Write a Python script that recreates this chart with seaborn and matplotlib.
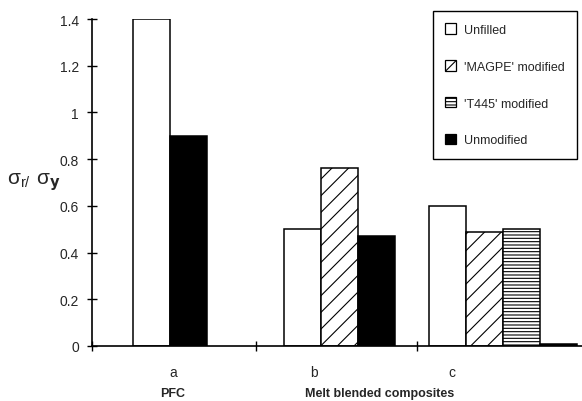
import numpy as np
import pandas as pd
import matplotlib
matplotlib.use("Agg")
import matplotlib.pyplot as plt
from matplotlib.patches import Patch
import seaborn as sns

# ---- data ----
groups = ["a", "b", "c"]
group_titles = ["PFC", "Melt blended composites"]
series = ["Unfilled", "'MAGPE' modified", "'T445' modified", "Unmodified"]
unfilled = [1.4, 0.5, 0.6]
magpe = [None, 0.76, 0.49]
t445 = [None, None, 0.50]
unmodified = [0.9, 0.47, 0.01]
y_ticks = [0, 0.2, 0.4, 0.6, 0.8, 1.0, 1.2, 1.4]
y_ticklabels = ["0", "0.2", "0.4", "0.6", "0.8", "1", "1.2", "1.4"]

# ---- layout ----
group_start = [1.6, 5.7, 9.6]
group_label_x = [2.19, 6.0, 9.73]
title_x = [2.19, 7.78]
boundary_ticks = [0, 4.43, 8.78]

rows = []
for gi, g in enumerate(groups):
    slot = 0
    for s, vals in zip(series, [unfilled, magpe, t445, unmodified]):
        v = vals[gi]
        if v is None:
            continue
        rows.append({"pos": group_start[gi] + slot, "val": v, "series": s})
        slot += 1
df = pd.DataFrame(rows)

sns.set_style("ticks")
plt.rcParams["font.family"] = ["Liberation Sans", "DejaVu Sans"]
plt.rcParams["mathtext.default"] = "regular"
plt.rcParams["hatch.linewidth"] = 0.8

fig = plt.figure(figsize=(5.82, 4.02), dpi=100)
ax = fig.add_axes([92 / 582, 55 / 402, 490 / 582, 327 / 402])

palette = {series[0]: "white", series[1]: "white", series[2]: "white", series[3]: "black"}
hatches = ["", "//", "-----", ""]

sns.barplot(data=df, x="pos", y="val", hue="series", hue_order=series,
            palette=palette, native_scale=True, dodge=False, width=1.0,
            edgecolor="black", linewidth=1.1, legend=False, ax=ax, errorbar=None)

for cont, h in zip(ax.containers, hatches):
    for p in cont.patches:
        p.set_hatch(h)

ax.set_xlim(0, 13.24)
ax.set_ylim(0, 1.4)
ax.set_yticks(y_ticks)
ax.set_yticklabels(y_ticklabels, fontsize=10)
ax.set_xticks(boundary_ticks)
ax.set_xticklabels([])
ax.tick_params(axis="both", direction="inout", length=7, width=1, color="black")
ax.tick_params(axis="y", pad=6)
for side in ["top", "right"]:
    ax.spines[side].set_visible(False)
for side in ["left", "bottom"]:
    ax.spines[side].set_linewidth(1.2)
    ax.spines[side].set_color("black")

ax.set_xlabel("")
ax.set_ylabel(r"$\sigma_{r/}\ \sigma_{\mathbf{y}}$", fontsize=15, rotation=0,
              ha="center", va="center")
ax.yaxis.set_label_coords(-0.118, 0.505)

for x, g in zip(group_label_x, groups):
    ax.text(x, -0.078, g, transform=ax.get_xaxis_transform(), ha="center",
            va="center", fontsize=10)
for x, t in zip(title_x, group_titles):
    ax.text(x, -0.145, t, transform=ax.get_xaxis_transform(), ha="center",
            va="center", fontsize=9, fontweight="bold")

handles = [Patch(facecolor=palette[s], edgecolor="black", hatch=h, linewidth=0.9)
           for s, h in zip(series, hatches)]
leg = ax.legend(handles, series, loc="upper right", bbox_to_anchor=(0.99, 1.025),
                fontsize=9, frameon=True, fancybox=False, edgecolor="black",
                labelspacing=1.95, handlelength=0.9, handleheight=0.9,
                handletextpad=0.6, borderpad=1.0, borderaxespad=0)
leg.get_frame().set_linewidth(1.0)
leg.get_frame().set_alpha(1)

fig.savefig("out.png", dpi=100)
